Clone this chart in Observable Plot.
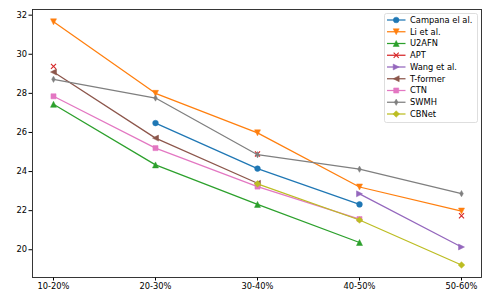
<!DOCTYPE html>
<html>
<head>
<meta charset="utf-8">
<script src="https://cdn.jsdelivr.net/npm/d3@7"></script>
<script src="https://cdn.jsdelivr.net/npm/@observablehq/plot@0.6"></script>
<style>
  html, body { margin: 0; padding: 0; background: #fff; }
  svg { display: block; }
</style>
</head>
<body>
<div id="chart"></div>
<script>
const categories = ["10-20%", "20-30%", "30-40%", "40-50%", "50-60%"];
const seriesNames = ["Campana el al.", "Li et al.", "U2AFN", "APT", "Wang et al.", "T-former", "CTN", "SWMH", "CBNet"];
const campana = [null, 26.48, 24.15, 22.32, null];
const li = [31.66, 28.0, 25.98, 23.21, 21.98];
const u2afn = [27.44, 24.34, 22.32, 20.37, null];
const apt = [29.38, null, 24.9, null, 21.74];
const wang = [null, null, null, 22.86, 20.14];
const tformer = [29.09, 25.71, 23.4, null, null];
const ctn = [27.85, 25.2, 23.23, 21.57, null];
const swmh = [28.72, 27.76, 24.86, 24.12, 22.87];
const cbnet = [null, null, 23.37, 21.52, 19.22];
const yTicks = [20, 22, 24, 26, 28, 30, 32];

const seriesValues = [campana, li, u2afn, apt, wang, tformer, ctn, swmh, cbnet];
const colors = ["#1f77b4", "#ff7f0e", "#2ca02c", "#d62728", "#9467bd", "#8c564b", "#e377c2", "#7f7f7f", "#bcbd22"];
const markers = ["circle", "tdown", "tup", "x", "tright", "tleft", "square", "thind", "diamond"];
const R = 3;

function mk(kind) {
  return {
    draw(ctx, size) {
      const r = Math.sqrt(size / Math.PI);
      const poly = (pts) => { ctx.moveTo(pts[0][0], pts[0][1]); for (let i = 1; i < pts.length; i++) ctx.lineTo(pts[i][0], pts[i][1]); ctx.closePath(); };
      switch (kind) {
        case "circle": ctx.moveTo(r * 0.95, 0); ctx.arc(0, 0, r * 0.95, 0, 2 * Math.PI); break;
        case "tdown": poly([[0, r], [-r, -r], [r, -r]]); break;
        case "tup": poly([[0, -r], [-r, r], [r, r]]); break;
        case "tright": poly([[r, 0], [-r, -r], [-r, r]]); break;
        case "tleft": poly([[-r, 0], [r, -r], [r, r]]); break;
        case "square": poly([[-r * 0.85, -r * 0.85], [r * 0.85, -r * 0.85], [r * 0.85, r * 0.85], [-r * 0.85, r * 0.85]]); break;
        case "thind": poly([[0, -r * 1.05], [r * 0.6, 0], [0, r * 1.05], [-r * 0.6, 0]]); break;
        case "diamond": poly([[0, -r * 1.1], [r * 1.1, 0], [0, r * 1.1], [-r * 1.1, 0]]); break;
        case "x": ctx.moveTo(-r * 0.85, -r * 0.85); ctx.lineTo(r * 0.85, r * 0.85); ctx.moveTo(-r * 0.85, r * 0.85); ctx.lineTo(r * 0.85, -r * 0.85); break;
      }
    }
  };
}

const rows = [];
seriesNames.forEach((s, si) => {
  categories.forEach((c, ci) => {
    rows.push({series: s, cat: c, value: seriesValues[si][ci]});
  });
});

const marks = [];
seriesNames.forEach((s, si) => {
  const data = rows.filter(d => d.series === s);
  marks.push(Plot.line(data, {x: "cat", y: "value", stroke: colors[si], strokeWidth: 1.25}));
  if (markers[si] === "x") {
    marks.push(Plot.dot(data.filter(d => d.value != null), {x: "cat", y: "value", r: R, symbol: mk("x"), stroke: colors[si], strokeWidth: 1.1, fill: "none"}));
  } else {
    marks.push(Plot.dot(data.filter(d => d.value != null), {x: "cat", y: "value", r: R, symbol: mk(markers[si]), fill: colors[si], stroke: colors[si], strokeWidth: 0.5}));
  }
});

const plot = Plot.plot({
  width: 498,
  height: 299,
  marginLeft: 32,
  marginRight: 17,
  marginTop: 9,
  marginBottom: 22,
  style: {fontFamily: "DejaVu Sans", fontSize: "8.3px", background: "#fff", color: "#000"},
  x: {type: "point", domain: categories, padding: 0.2, label: null, tickSize: 3.5, tickPadding: 2},
  y: {domain: [18.58, 32.29], ticks: yTicks, label: null, tickSize: 3.5, tickPadding: 2},
  marks: [
    ...marks,
    Plot.frame({stroke: "#222", strokeWidth: 0.9})
  ]
});

document.getElementById("chart").appendChild(plot);

// legend inside the axes, top right
const svg = d3.select(plot);
const lg = svg.append("g").attr("transform", "translate(384,13)").attr("text-anchor", "start");
lg.append("rect").attr("x", 0.5).attr("y", 0.5).attr("width", 93).attr("height", 109).attr("rx", 2)
  .attr("fill", "#fff").attr("fill-opacity", 0.85).attr("stroke", "#d6d6d6").attr("stroke-width", 0.8);
seriesNames.forEach((s, i) => {
  const y = 7 + i * 11.75;
  lg.append("line").attr("x1", 3).attr("x2", 21.5).attr("y1", y).attr("y2", y).attr("stroke", colors[i]).attr("stroke-width", 1.25);
  const p = d3.path();
  mk(markers[i]).draw(p, R * R * Math.PI);
  const path = lg.append("path").attr("d", p.toString()).attr("transform", `translate(12.2,${y})`);
  if (markers[i] === "x") path.attr("fill", "none").attr("stroke", colors[i]).attr("stroke-width", 1.1);
  else path.attr("fill", colors[i]).attr("stroke", colors[i]).attr("stroke-width", 0.5);
  lg.append("text").attr("x", 26).attr("y", y).attr("dy", "0.35em").attr("text-anchor", "start")
    .attr("font-family", "DejaVu Sans").attr("font-size", "8.3px").attr("fill", "#000").text(s);
});
</script>
</body>
</html>
